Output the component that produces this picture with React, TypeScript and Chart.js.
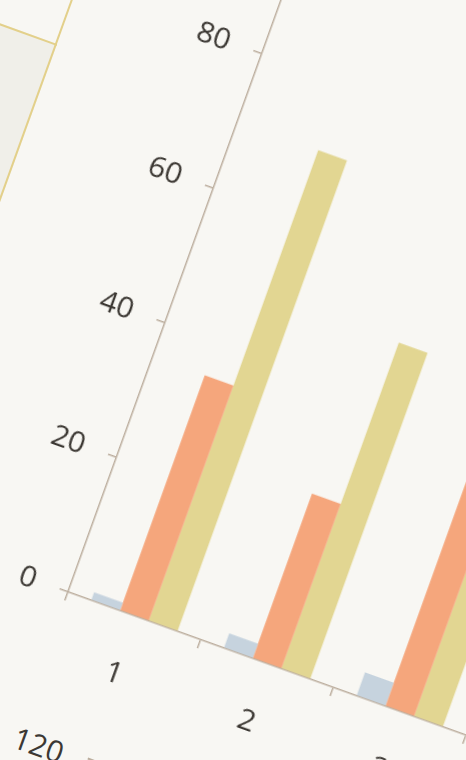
import React, { useEffect, useRef } from "react";
import { Chart, registerables } from "chart.js";

Chart.register(...registerables);

// ---- data ----
const categories = ["1", "2", "3"];
const blueValues = [1.2, 2.2, 3.5];
const orangeValues = [35, 24.5, 42];
const yellowValues = [70, 48.5, 58];
const yMin = 0;
const yMax = 100;
const yStep = 20;
const lowerChartTopLabel = "120";

// ---- style ----
const ANGLE = 19.8;
const ORIGIN_X = 68;
const ORIGIN_Y = 592;
const AXIS = "#bcae9e";
const TEXT = "#3c3833";
const FONT_FAMILY = "'Open Sans', 'DejaVu Sans', sans-serif";
const BG = "#f8f7f3";
const PANEL_LINE = "#e3d08a";

export default function App() {
  const canvasRef = useRef<HTMLCanvasElement>(null);

  useEffect(() => {
    const canvas = canvasRef.current!;
    const font = { family: FONT_FAMILY, size: 30, weight: "normal" as const };
    const chart = new Chart(canvas, {
      type: "bar",
      data: {
        labels: categories,
        datasets: [
          { data: blueValues, backgroundColor: "#c6d3de" },
          { data: orangeValues, backgroundColor: "#f5a67c" },
          { data: yellowValues, backgroundColor: "#e2d692" },
        ],
      },
      options: {
        responsive: false,
        animation: false,
        devicePixelRatio: 1,
        layout: { padding: { top: 30, right: 20, left: 0, bottom: 0 } },
        plugins: { legend: { display: false }, tooltip: { enabled: false } },
        datasets: {
          bar: { categoryPercentage: 0.65, barPercentage: 1, borderWidth: 0 },
        },
        scales: {
          x: {
            grid: {
              offset: true,
              drawOnChartArea: false,
              drawTicks: true,
              tickLength: 9,
              color: AXIS,
              lineWidth: 1.5,
            },
            border: { display: true, color: AXIS, width: 1.5 },
            ticks: { font, color: TEXT, padding: 34 },
            afterFit: (s: any) => {
              s.height = 100;
            },
          },
          y: {
            min: yMin,
            max: yMax,
            grid: {
              drawOnChartArea: false,
              drawTicks: true,
              tickLength: 9,
              color: AXIS,
              lineWidth: 1.5,
            },
            border: { display: true, color: AXIS, width: 1.5 },
            ticks: { stepSize: yStep, font, color: TEXT, padding: 25 },
            afterFit: (s: any) => {
              s.width = 100;
            },
          },
        },
      },
    });
    const left = chart.chartArea.left;
    const zeroY = chart.scales.y.getPixelForValue(0);
    canvas.style.left = `${-left}px`;
    canvas.style.top = `${-zeroY}px`;
    return () => chart.destroy();
  }, []);

  return (
    <div
      style={{
        position: "fixed",
        left: 0,
        top: 0,
        width: 466,
        height: 760,
        overflow: "hidden",
        background: BG,
      }}
    >
      <div
        style={{
          position: "absolute",
          left: ORIGIN_X,
          top: ORIGIN_Y,
          width: 0,
          height: 0,
          transform: `rotate(${ANGLE}deg)`,
          transformOrigin: "0 0",
        }}
      >
        {/* neighbouring panel (top-left) */}
        <div
          style={{
            position: "absolute",
            left: -600,
            top: -512,
            width: 404,
            height: 900,
            boxSizing: "border-box",
            background: "#f0efe9",
            borderTop: `2.5px solid ${PANEL_LINE}`,
            borderRight: `2.5px solid ${PANEL_LINE}`,
          }}
        />
        <div
          style={{
            position: "absolute",
            left: -198.5,
            top: -900,
            width: 2.5,
            height: 390,
            background: PANEL_LINE,
          }}
        />
        {/* next chart below: its top tick label */}
        <div
          style={{
            position: "absolute",
            left: -50,
            top: 136,
            width: 100,
            textAlign: "right",
            font: `30px ${FONT_FAMILY}`,
            lineHeight: "36px",
            color: TEXT,
            whiteSpace: "nowrap",
          }}
        >
          {lowerChartTopLabel}
        </div>
        <div
          style={{
            position: "absolute",
            left: 75,
            top: 149,
            width: 10,
            height: 1.5,
            background: AXIS,
          }}
        />
        <div
          style={{
            position: "absolute",
            left: 84,
            top: 149,
            width: 1.5,
            height: 300,
            background: AXIS,
          }}
        />
        <canvas
          ref={canvasRef}
          width={543}
          height={858}
          style={{ position: "absolute", display: "block" }}
        />
      </div>
    </div>
  );
}
